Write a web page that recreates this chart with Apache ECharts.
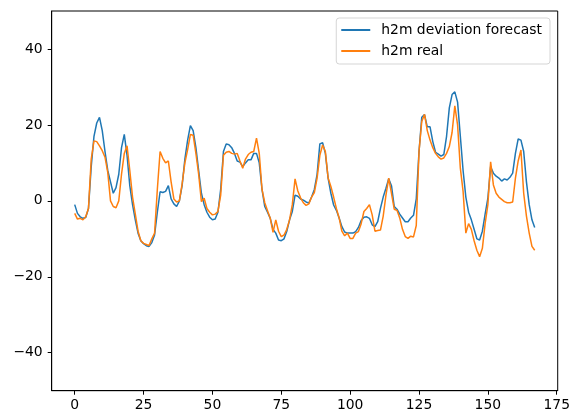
<!DOCTYPE html>
<html>
<head>
<meta charset="utf-8">
<script src="https://cdn.jsdelivr.net/npm/echarts@6/dist/echarts.min.js"></script>
<style>
  html, body { margin: 0; padding: 0; background: #fff; }
  #main { width: 573px; height: 415px; }
</style>
</head>
<body>
<div id="main"></div>
<script>
// hourly values, index = hour
var forecast = [
    -1, -3.3, -4.2, -4.6, -4.4, -2, 9, 17, 20.5, 22,
    18.5, 13, 8, 5, 2, 3.5, 7, 14, 17.5, 12,
    4, -1, -5, -8.5, -10.5, -11.3, -11.8, -12, -11, -9,
    -3, 2.4, 2.2, 2.5, 4, 0.5, -0.8, -1.5, 0, 4,
    11, 16, 19.8, 18.5, 14, 8, 2, -1, -3, -4.3,
    -5, -4.8, -3, 3, 13, 15, 14.8, 14, 12.5, 10.5,
    10.2, 9, 10, 10.8, 10.8, 12.5, 12.5, 10, 3, -1.5,
    -3, -4.6, -7.5, -8.5, -10.3, -10.5, -10, -8, -5, -2.8,
    1.5, 1.2, 0.5, 0.2, -0.3, -0.6, 1, 3, 7, 15,
    15.3, 12.5, 6, 2, -1.1, -2.5, -4.5, -6.8, -8.2, -8.5,
    -8.5, -8.5, -8.1, -7, -5.2, -4.3, -4.2, -4.6, -6.3, -6.8,
    -5.5, -2, 1, 3.3, 5.8, 4, -1.5, -2.2, -3.5, -4.5,
    -5.5, -5.5, -4.5, -3.8, 0.5, 13, 22, 22.7, 19.5, 19.5,
    15.6, 12.8, 12.3, 11.8, 12.2, 17, 24.5, 28, 28.7, 26,
    17, 8, 1, -3, -5, -7.5, -10, -10.3, -8, -3.5,
    0.7, 9, 7.3, 6.5, 6, 5.2, 5.8, 5.5, 6.2, 7.3,
    12.5, 16.3, 16, 13, 5, -1, -5, -7
];
var real = [
    -3.3, -4.8, -4.6, -5, -4.2, -2, 11, 15.8, 15.6, 14.5,
    13.2, 11.5, 7.5, 0, -1.5, -1.8, 0, 7, 12.5, 14.5,
    8, 1, -3.5, -8, -10.5, -11.2, -11.5, -11.8, -10, -8.5,
    3, 13, 11.2, 10, 10.5, 5, 0.5, -0.3, 0, 4.5,
    10, 13.5, 17.5, 17.3, 12.5, 7, -0.2, 0.7, -2, -3,
    -3.7, -3.5, -2.8, 1.5, 12, 12.8, 13, 12.5, 12.3, 12.5,
    10.5, 8.6, 11, 12.2, 12.8, 13, 16.5, 12.5, 3, -0.5,
    -2.6, -4.6, -8.3, -5, -8, -9.4, -9, -7.5, -5, -1,
    5.8, 2.6, 0.8, -0.5, -1.2, -0.8, 1, 2.2, 6, 12,
    14.7, 13, 6, 3.8, 1, -2, -4.5, -8, -9.2, -8.5,
    -9.9, -9.9, -8.5, -8.1, -6, -2.8, -2, -1, -3.7, -8,
    -7.8, -7.7, -4, 1.5, 6, 2, -2.2, -2.5, -4.5, -7.5,
    -9.4, -9.9, -9.3, -9.5, -6.5, 13, 20.9, 22.8, 18.5, 16,
    14, 12.5, 11.6, 11, 11.3, 12.5, 14.3, 18, 25, 20,
    8.6, 2.5, -8.5, -6, -7.5, -10.5, -13, -14.7, -12.5, -6,
    -1, 10.3, 4.2, 2, 1, 0.4, -0.2, -0.5, -0.5, -0.3,
    6, 10.5, 13.4, 2, -4, -8.5, -12, -13
];
var xTicks = [0, 25, 50, 75, 100, 125, 150, 175];
var yTicks = [-40, -20, 0, 20, 40];
var seriesNames = ['h2m deviation forecast', 'h2m real'];

function toPairs(arr) {
    return arr.map(function (v, i) { return [i, v]; });
}
function minusSign(v) {
    return String(v).replace('-', '\u2212');
}

var myChart = echarts.init(document.getElementById('main'));
var font = 'DejaVu Sans';

var option = {
    animation: false,
    grid: {
        left: 51.7, right: 15, top: 11, bottom: 24.3,
        show: true, borderColor: '#000', borderWidth: 1, backgroundColor: '#fff'
    },
    legend: {
        data: seriesNames,
        orient: 'vertical',
        right: 23, top: 18,
        padding: [5, 8, 6, 5],
        itemGap: 7,
        itemWidth: 29, itemHeight: 2,
        icon: 'rect',
        borderColor: '#d5d5d5', borderWidth: 1, borderRadius: 3,
        backgroundColor: 'rgba(255,255,255,0.8)',
        textStyle: { fontFamily: font, fontSize: 13.9, color: '#000', padding: [0, 0, 0, 6] }
    },
    xAxis: {
        type: 'value',
        min: -8.35, max: 175.35,
        splitLine: { show: false },
        axisLine: { onZero: false, lineStyle: { color: '#000', width: 1 } },
        axisTick: { length: 4, lineStyle: { color: '#000' }, customValues: xTicks },
        axisLabel: { customValues: xTicks, margin: 8, fontFamily: font, fontSize: 13.9, color: '#000', formatter: minusSign }
    },
    yAxis: {
        type: 'value',
        min: -50, max: 50,
        splitLine: { show: false },
        axisLine: { show: true, onZero: false, lineStyle: { color: '#000', width: 1 } },
        axisTick: { show: true, length: 4, lineStyle: { color: '#000' }, customValues: yTicks },
        axisLabel: { customValues: yTicks, margin: 9, fontFamily: font, fontSize: 13.9, color: '#000', formatter: minusSign }
    },
    series: [
        {
            name: seriesNames[0],
            type: 'line',
            data: toPairs(forecast),
            symbol: 'none',
            color: '#1f77b4',
            lineStyle: { width: 1.5 }
        },
        {
            name: seriesNames[1],
            type: 'line',
            data: toPairs(real),
            symbol: 'none',
            color: '#ff7f0e',
            lineStyle: { width: 1.5 }
        }
    ]
};
myChart.setOption(option);
</script>
</body>
</html>
